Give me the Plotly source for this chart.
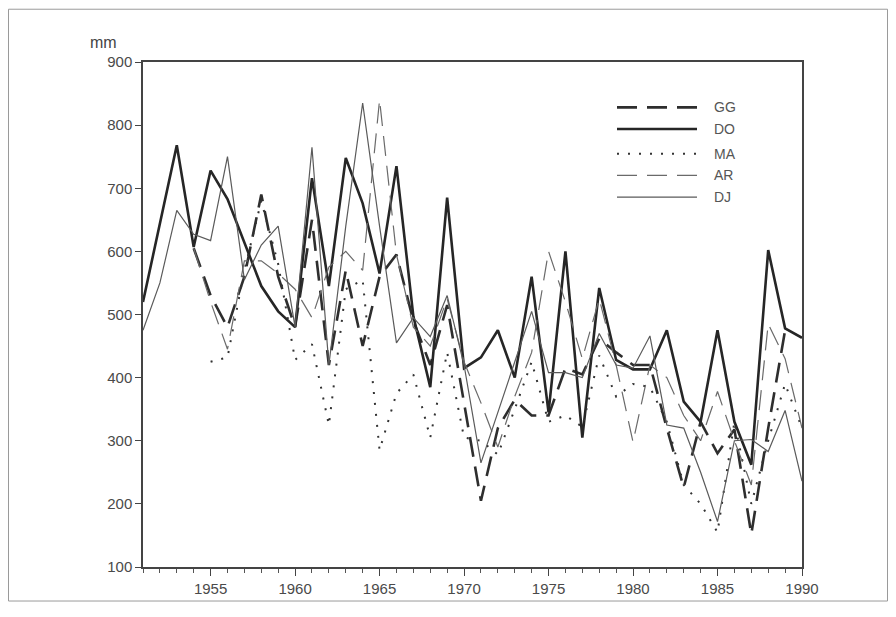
import plotly.graph_objects as go

years = list(range(1951, 1991))

GG = [None, None, None, 605, 530, 480, 560, 690, 560, 480,
      650, 420, 570, 450, 560, 595, 490, 420, 515, 360,
      205, 320, 365, 340, 340, 415, 405, 462, 440, 420,
      420, 320, 226, 330, 280, 318, 152, 320, 475, None]
DO = [520, 645, 768, 607, 728, 683, 615, 545, 505, 480,
      716, 545, 748, 676, 565, 735, 497, 385, 685, 415,
      432, 475, 400, 560, 345, 600, 305, 542, 428, 413,
      413, 475, 362, 330, 475, 330, 262, 602, 478, 463]
MA = [None, None, None, None, 425, 432, 570, 680, 580, 428,
      453, 325, 540, 555, 285, 375, 405, 305, 440, 305,
      300, 278, 350, 425, 330, 340, 322, 435, 370, 390,
      385, 330, 230, 200, 155, 330, 200, 300, 390, 320]
AR = [None, None, None, 605, 520, 445, 585, 585, 565, 540,
      495, 575, 600, 570, 840, 595, 480, 450, 525, 425,
      360, 290, 370, 440, 600, 520, 430, 525, 420, 298,
      420, 400, 340, 300, 378, 300, 230, 485, 430, 320]
DJ = [475, 550, 665, 627, 617, 750, 555, 610, 640, 480,
      765, 420, 640, 835, 640, 455, 495, 465, 530, 420,
      265, 345, 425, 505, 408, 408, 400, 470, 420, 415,
      466, 325, 320, 250, 172, 300, 302, 283, 348, 236]

names = ["GG", "DO", "MA", "AR", "DJ"]
series = [GG, DO, MA, AR, DJ]
styles = [
    dict(color="#2e2e2e", width=2.6, dash="20px,10px"),
    dict(color="#262626", width=2.6, dash="solid"),
    dict(color="#333333", width=2.0, dash="2px,9px"),
    dict(color="#6a6a6a", width=1.2, dash="20px,10px"),
    dict(color="#5a5a5a", width=1.2, dash="solid"),
]

# page has an 8px body margin; figure coordinates = page - 8
OFF = 8
W, H = 880, 601
L, R, T, B = 143 - OFF, 802 - OFF, 62 - OFF, 574 - OFF

fig = go.Figure()
for n, s, st in zip(names, series, styles):
    fig.add_trace(go.Scatter(x=years, y=s, mode="lines", name=n,
                             line=st, connectgaps=False, showlegend=False))

def px(xpage):
    return (xpage - OFF - L) / (R - L)

def py(ypage):
    return (B - (ypage - OFF)) / (B - T)

shapes = [dict(type="rect", xref="paper", yref="paper",
               x0=(0.5 - L) / (R - L), x1=(W - 0.5 - L) / (R - L),
               y0=(B - (H - 0.5)) / (B - T), y1=(B - 0.5) / (B - T),
               line=dict(color="#9a9a9a", width=1), layer="below")]
annotations = [dict(text="mm", xref="paper", yref="paper", x=px(88), y=py(42),
                    xanchor="left", yanchor="middle", showarrow=False,
                    font=dict(family="Liberation Sans", size=16, color="#444"))]
leg_y = [108, 130, 155, 177, 199]
for n, st, ly in zip(names, styles, leg_y):
    shapes.append(dict(type="line", xref="paper", yref="paper",
                       x0=px(617), x1=px(697), y0=py(ly), y1=py(ly), line=st))
    annotations.append(dict(text=n, xref="paper", yref="paper", x=px(712), y=py(ly),
                            xanchor="left", yanchor="middle", showarrow=False,
                            font=dict(family="Liberation Sans", size=14, color="#555")))

fig.update_layout(
    width=W, height=H,
    margin=dict(l=L, r=W - R, t=T, b=H - B, pad=0),
    paper_bgcolor="white", plot_bgcolor="white",
    shapes=shapes, annotations=annotations,
    font=dict(family="Liberation Sans", size=15, color="#4a4a4a"),
    xaxis=dict(range=[1951, 1990], tickmode="linear", tick0=1955, dtick=5,
               ticks="outside", ticklen=7, tickcolor="#444", tickwidth=1,
               showline=True, linecolor="#444", linewidth=1.5, mirror=True,
               showgrid=False, zeroline=False,
               minor=dict(dtick=1, tick0=1951, ticks="outside", ticklen=4,
                          tickcolor="#555", showgrid=False)),
    yaxis=dict(range=[100, 900], tickmode="linear", tick0=100, dtick=100,
               ticks="outside", ticklen=6, tickcolor="#444", tickwidth=1,
               showline=True, linecolor="#444", linewidth=1.5, mirror=True,
               showgrid=False, zeroline=False),
)

fig.write_html("out.html")
